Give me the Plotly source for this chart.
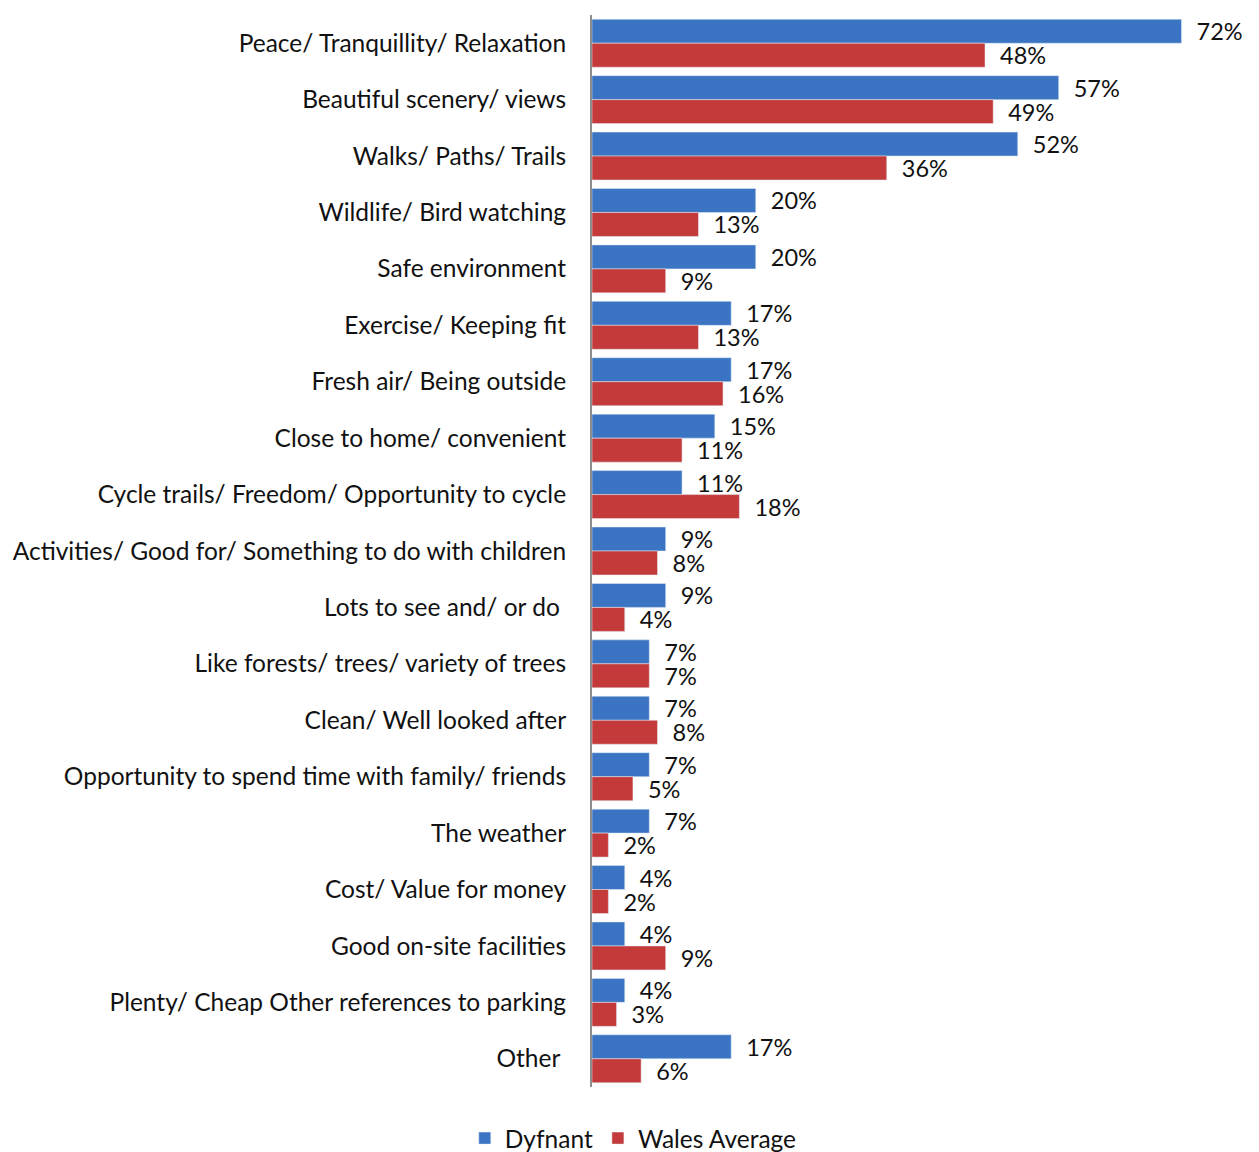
import plotly.graph_objects as go

categories = [
    "Peace/ Tranquillity/ Relaxation",
    "Beautiful scenery/ views",
    "Walks/ Paths/ Trails",
    "Wildlife/ Bird watching",
    "Safe environment",
    "Exercise/ Keeping fit",
    "Fresh air/ Being outside",
    "Close to home/ convenient",
    "Cycle trails/ Freedom/ Opportunity to cycle",
    "Activities/ Good for/ Something to do with children",
    "Lots to see and/ or do ",
    "Like forests/ trees/ variety of trees",
    "Clean/ Well looked after",
    "Opportunity to spend time with family/ friends",
    "The weather",
    "Cost/ Value for money",
    "Good on-site facilities",
    "Plenty/ Cheap Other references to parking",
    "Other ",
]
dyfnant = [72, 57, 52, 20, 20, 17, 17, 15, 11, 9, 9, 7, 7, 7, 7, 4, 4, 4, 17]
wales = [48, 49, 36, 13, 9, 13, 16, 11, 18, 8, 4, 7, 8, 5, 2, 2, 9, 3, 6]

FONT = "Lato"
FS = 24.5
LFS = 23.5

fig = go.Figure()
fig.add_trace(go.Bar(
    y=categories, x=dyfnant, name="Dyfnant", orientation="h",
    marker=dict(color="#3a74c2"),
    texttemplate="\u00a0\u00a0%{x}%", textposition="outside", constraintext="none",
    textfont=dict(family=FONT, size=LFS, color="#111"), cliponaxis=False,
))
fig.add_trace(go.Bar(
    y=categories, x=wales, name="Wales Average", orientation="h",
    marker=dict(color="#c43a3a"),
    texttemplate="\u00a0\u00a0%{x}%", textposition="outside", constraintext="none",
    textfont=dict(family=FONT, size=LFS, color="#111"), cliponaxis=False,
))

fig.update_layout(
    width=1259, height=1152,
    margin=dict(l=592, r=12, t=15, b=65, autoexpand=False),
    barmode="group", bargap=0.15, bargroupgap=0,
    plot_bgcolor="white", paper_bgcolor="white",
    font=dict(family=FONT, size=FS, color="#111"),
    legend=dict(orientation="h", xref="container", yref="container",
                x=0.503, xanchor="center", y=0.012, yanchor="middle",
                font=dict(family=FONT, size=FS), itemwidth=30, traceorder="normal",
                tracegroupgap=0),
    uniformtext=dict(mode=False),
)
fig.update_xaxes(range=[0, 80], visible=False, showgrid=False, zeroline=False)
fig.update_yaxes(autorange="reversed", showline=True, linecolor="#8c8c8c", linewidth=2,
                 ticks="", showgrid=False, ticklabelstandoff=19,
                 tickfont=dict(family=FONT, size=FS, color="#111"))

fig.write_html("out.html")
